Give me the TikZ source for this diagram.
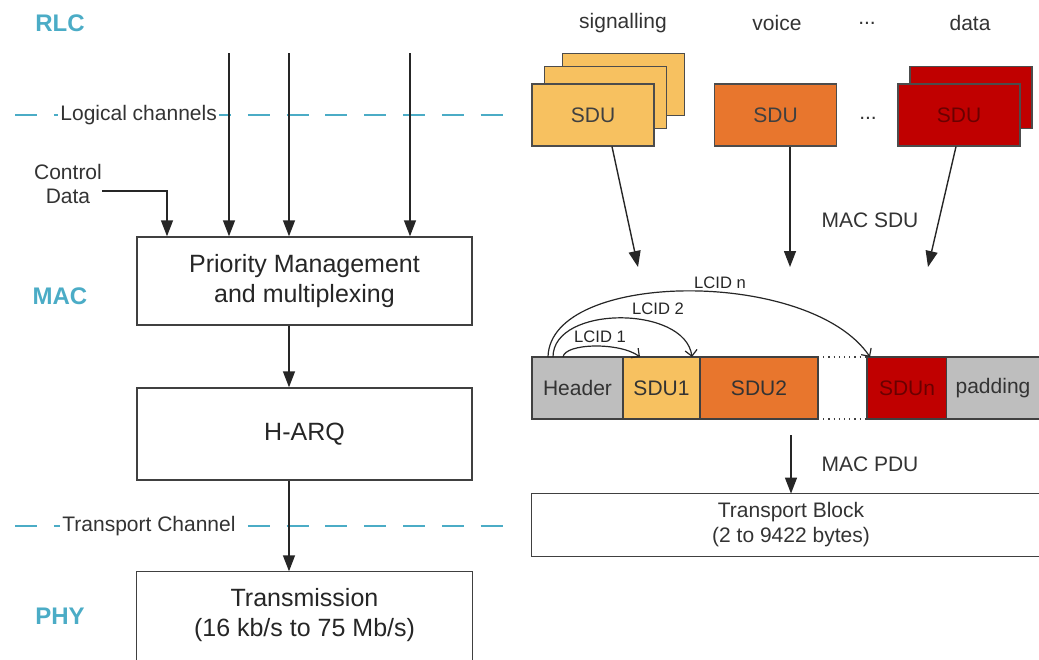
\documentclass[tikz,border=0pt]{standalone}
\usepackage{fontspec}
\setmainfont{Liberation Sans}
\usepackage{xcolor}
\usepackage{tikz}
\usetikzlibrary{arrows.meta, positioning, calc}

\definecolor{layerteal}{RGB}{75,172,198}
\definecolor{sduyellow}{RGB}{247,193,96}
\definecolor{sduorange}{RGB}{232,118,45}
\definecolor{sdured}{RGB}{192,0,0}
\definecolor{hdrgray}{RGB}{190,190,190}

\begin{document}
\begin{tikzpicture}[x=0.5pt, y=-0.5pt,
    box/.style={rectangle, draw=black!75, line width=0.7pt, minimum width=167.5pt, minimum height=45pt, align=center, font=\fontsize{12.5}{15}\selectfont, text=black!85},
    layer/.style={font=\fontsize{12}{14}\selectfont\bfseries, text=layerteal},
    sdu/.style={rectangle, draw=black!70, line width=0.6pt, minimum width=61pt, minimum height=31pt, font=\fontsize{10.5}{12}\selectfont, text=black!75},
    cell/.style={rectangle, draw=black!75, line width=0.6pt, minimum height=31pt, inner sep=0pt, outer sep=0pt, font=\fontsize{10.5}{12}\selectfont, text=black!80},
    lbl/.style={font=\fontsize{10.5}{12.5}\selectfont, text=black!80, align=center},
    small/.style={font=\fontsize{8.3}{10}\selectfont, text=black!85},
    chan/.style={draw=layerteal, line width=1.4pt, dash pattern=on 11pt off 8.4pt},
    arr/.style={-{Triangle[length=8pt, width=6pt]}, line width=0.7pt, draw=black!85},
    lcid/.style={-{Straight Barb[length=3pt, width=6pt]}, line width=0.6pt, draw=black!85}
]
\useasboundingbox (0,0) rectangle (1039,659);

% layers
\node[layer] (rlc) at (60,23) {RLC};
\node[layer] (mac) at (60,296) {MAC};
\node[layer] (phy) at (60,616) {PHY};

% channel borders
\draw[chan] (15,115) -- (503,115);
\node[lbl, fill=white, anchor=west, inner sep=1pt] (logch) at (58,115) {Logical channels};
\draw[chan] (15,526) -- (503,526);
\node[lbl, fill=white, anchor=west, inner sep=1pt] (trch) at (60,526) {Transport Channel};

% MAC chain
\node[box, minimum height=44pt] (prio) at (304.5,281) {Priority Management\\and multiplexing};
\node[box, minimum height=46pt] (harq) at (304.5,434) {H-ARQ};
\node[box, draw=none, minimum height=43.5pt] (tx) at (304.5,615.5) {Transmission\\(16 kb/s to 75 Mb/s)};
\draw[black!75, line width=0.7pt] (tx.south west) -- (tx.north west) -- (tx.north east) -- (tx.south east);

\coordinate (in1) at (229,53);
\coordinate (in2) at (289,53);
\coordinate (in3) at (410,53);
\foreach \c in {in1,in2,in3}
  \draw[arr] (\c) -- (\c |- prio.north);

\node[lbl, inner sep=0pt, font=\fontsize{10.5}{12}\selectfont] (ctl) at (68,184) {Control\\Data};
\draw[arr] (ctl.east |- 0,191) -| (prio.north -| 167,0);

\draw[arr] (prio.south -| in2) -- (harq.north -| in2);
\draw[arr] (harq.south -| in2) -- (tx.north -| in2);

% logical channel SDUs
\node[lbl] (tsig) at (623,23) {signalling};
\node[lbl] (tvoice) at (777,23) {voice};
\node[lbl] (tdots) at (867,23) {...};
\node[lbl] (tdata) at (970,23) {data};

\node[sdu, fill=sduyellow] (sig3) at (623.5,84.5) {};
\node[sdu, fill=sduyellow] (sig2) at (605.5,97.5) {};
\node[sdu, fill=sduyellow] (sig) at (593,115) {SDU};
\node[sdu, fill=sduorange] (voice) at (775.5,115) {SDU};
\node[lbl] (sdots) at (868,118) {...};
\node[sdu, fill=sdured] (data2) at (971,97.5) {};
\node[sdu, fill=sdured, text=sdured!55!black] (data) at (959,115) {SDU};

\coordinate (m1) at (638,267);
\coordinate (m2) at (790,267);
\coordinate (m3) at (928,267);
\draw[arr] ($(sig.south)+(19,0)$) -- (m1);
\draw[arr] ($(voice.south)+(14.5,0)$) -- (m2);
\draw[arr] ($(data.south)+(-3,0)$) -- (m3);
\node[lbl] (macsdu) at (870,220) {MAC SDU};

% MAC PDU
\node[cell, fill=hdrgray, minimum width=45.5pt] (hdr) at (577.5,388) {Header};
\node[cell, fill=sduyellow, minimum width=38.5pt, right=0pt of hdr] (s1) {SDU1};
\node[cell, fill=sduorange, minimum width=59pt, right=0pt of s1] (s2) {SDU2};
\node[cell, draw=none, minimum width=24.5pt, right=0pt of s2] (gap) {};
\node[cell, fill=sdured, text=sdured!55!black, minimum width=40pt, right=0pt of gap] (sn) {SDUn};
\node[cell, draw=none, fill=hdrgray, minimum width=46pt, right=0pt of sn] (pad) {padding};
\draw[black!75, line width=0.6pt] (pad.north west) -- (pad.north east) (pad.south west) -- (pad.south east);
\draw[black!75, line width=0.6pt, dotted] (gap.north west) -- (gap.north east) (gap.south west) -- (gap.south east);

\draw[lcid] ($(hdr.north west)+(31,0)$) .. controls +(2,-14) and +(-20,-15) .. ($(s1.north west)+(17,0)$);
\draw[lcid] ($(hdr.north west)+(21,0)$) .. controls +(0,-52) and +(-7,-52) .. ($(s1.north east)+(-8,0)$);
\draw[lcid] ($(hdr.north west)+(16,0)$) .. controls +(2,-87) and +(-60,-89) .. ($(sn.north west)+(3,0)$);
\node[small] (lc1) at (600,337) {LCID 1};
\node[small] (lc2) at (658,309) {LCID 2};
\node[small] (lcn) at (720,283) {LCID n};

% transport block
\coordinate (pdu) at (791,435);
\node[lbl, minimum width=259pt, minimum height=31pt] (tb) at (791,525) {Transport Block\\(2 to 9422 bytes)};
\draw[black!75, line width=0.6pt] (1039,0 |- tb.north) -- (tb.north west) -- (tb.south west) -- (1039,0 |- tb.south);
\draw[arr] (pdu) -- (pdu |- tb.north);
\node[lbl] (macpdu) at (870,464) {MAC PDU};
\end{tikzpicture}
\end{document}
